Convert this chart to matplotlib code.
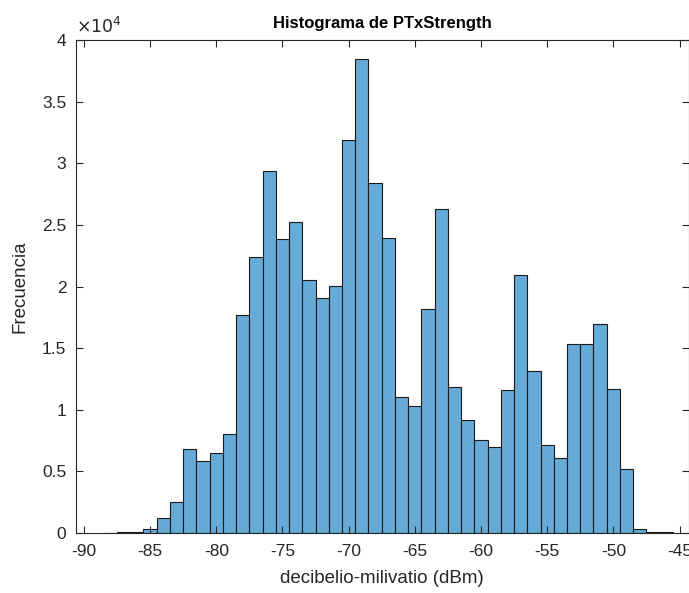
import numpy as np
import matplotlib
matplotlib.use("Agg")
import matplotlib.pyplot as plt
from matplotlib.ticker import FuncFormatter

plt.rcParams["font.family"] = ["Liberation Sans", "DejaVu Sans"]
plt.rcParams["axes.unicode_minus"] = False

# bin centres (dBm), bin width 1
centros = np.arange(-88, -45)
frecuencia = [30, 50, 100, 300, 1190, 2540, 6790, 5870, 6460, 8030,
              17690, 22400, 29350, 23850, 25230, 20530, 19070, 20040, 31890, 38460,
              28400, 23940, 11030, 10300, 18170, 26290, 11850, 9170, 7550, 6980,
              11600, 20930, 13140, 7140, 6090, 15330, 15330, 16960, 11680, 5190,
              300, 100, 50]

fig = plt.figure(figsize=(6.89, 5.93), dpi=100)
ax = fig.add_axes([0.1103, 0.1012, 0.889, 0.8313])

ax.bar(centros, frecuencia, width=1.0, color="#66aad7",
       edgecolor="#1a1a1a", linewidth=0.8)

ax.set_xlim(-90.6, -44.32)
ax.set_ylim(0, 40000)
ax.set_xticks(np.arange(-90, -44, 5))
ax.set_yticks(np.arange(0, 40001, 5000))
ax.yaxis.set_major_formatter(FuncFormatter(lambda v, p: "%g" % (v / 1e4)))

ax.tick_params(direction="in", top=True, right=True, labelsize=12.5,
               length=5, width=0.8, color="#262626", labelcolor="#262626")
ax.tick_params(axis="x", pad=8)
ax.tick_params(axis="y", pad=7)
for s in ax.spines.values():
    s.set_color("#262626")
    s.set_linewidth(0.8)

ax.text(0.0, 1.008, r"$\times10^4$", transform=ax.transAxes,
        fontsize=12.5, color="#262626", ha="left", va="bottom")

ax.set_title("Histograma de PTxStrength", fontsize=12, fontweight="bold", pad=9)
ax.set_xlabel("decibelio-milivatio (dBm)", fontsize=13.5, color="#262626", labelpad=8)
ax.set_ylabel("Frecuencia", fontsize=13.5, color="#262626", labelpad=10)

fig.savefig("out.png", dpi=100)
